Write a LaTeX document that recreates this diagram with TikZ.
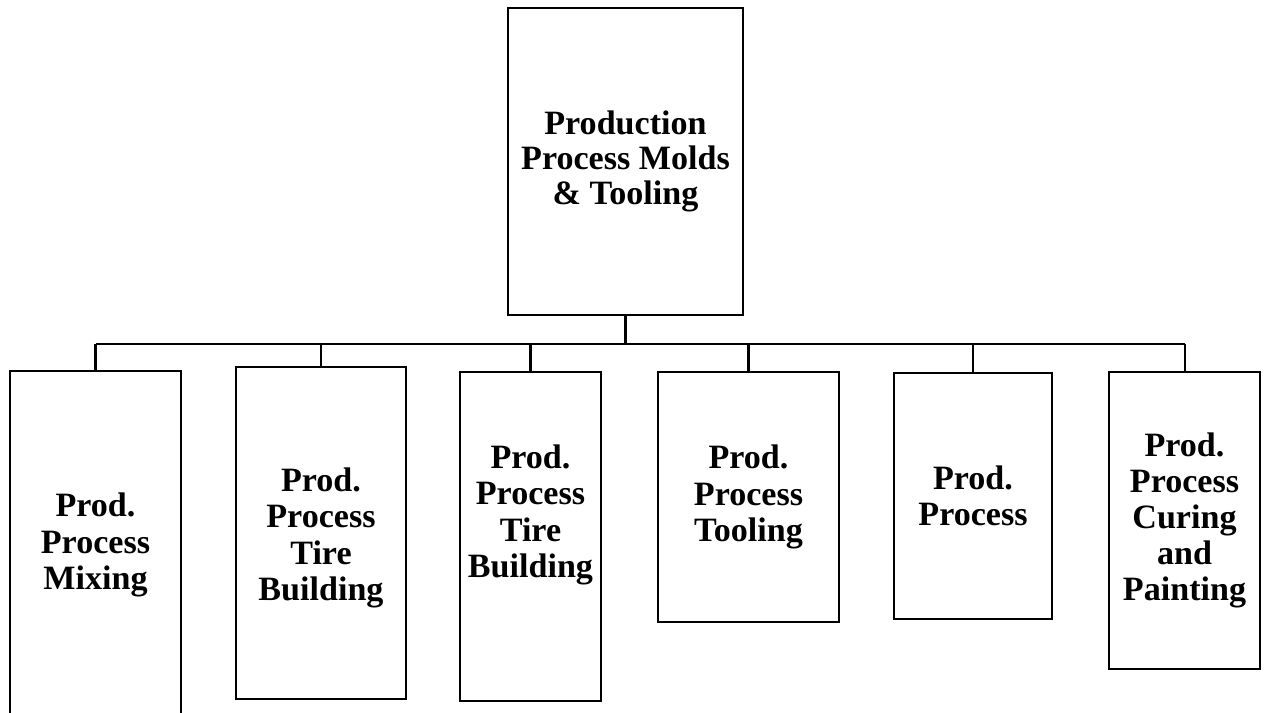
\documentclass[tikz,border=0pt]{standalone}
\usepackage{fontspec}
\setmainfont{Liberation Serif}

\tikzset{unit box/.style={draw, line width=1.15pt, outer sep=0pt, inner sep=0pt,
        align=center, font=\bfseries\fontsize{19.4}{20.6}\selectfont},
    unit text/.style={align=center, inner sep=0pt, font=\bfseries\fontsize{19.4}{20.6}\selectfont},
    bus line/.style={line width=1.15pt}}

\begin{document}
\begin{tikzpicture}[x=0.02cm, y=-0.02cm]
    \useasboundingbox (0,0) rectangle (1265,713);
    \clip (0,0) rectangle (1265,713);

    % head of the chart
    \node[unit box, minimum width=4.7cm, minimum height=6.14cm,
          font=\bfseries\fontsize{19.4}{19.9}\selectfont] (molds) at (625.5,161.5)
        {Production\\Process Molds\\\& Tooling};

    % one box per production step
    \node[unit box, minimum width=3.42cm, minimum height=7.4cm] (mixing) at (95.5,556) {};
    \node[unit text] (mixtext) at (95.5,545) {Prod.\\Process\\Mixing};
    \node[unit box, minimum width=3.4cm, minimum height=6.64cm] (buildA) at (321,533) {};
    \node[unit text] (buildAtext) at (321,538) {Prod.\\Process\\Tire\\Building};
    \node[unit box, minimum width=2.82cm, minimum height=6.58cm] (buildB) at (530.5,536.5) {};
    \node[unit text] (buildBtext) at (530.5,515) {Prod.\\Process\\Tire\\Building};
    \node[unit box, minimum width=3.62cm, minimum height=5.0cm] (tooling) at (748.5,497)
        {Prod.\\Process\\Tooling};
    \node[unit box, minimum width=3.16cm, minimum height=4.92cm] (process) at (973,496)
        {Prod.\\Process};
    \node[unit box, minimum width=3.02cm, minimum height=5.94cm] (curing) at (1184.5,520.5)
        {Prod.\\Process\\Curing\\and\\Painting};

    % the bus under the head box
    \coordinate (bus) at (625.5,344);
    \draw[bus line] (molds.south) -- (bus);
    \draw[bus line] (mixing.north |- bus) -- (curing.north |- bus);
    \draw[line width=1.6pt] (bus) -- (process.north |- bus);
    \foreach \step in {mixing, buildA, buildB, tooling, process, curing}
        \draw[bus line] (\step.north) -- (\step.north |- bus);
\end{tikzpicture}
\end{document}
